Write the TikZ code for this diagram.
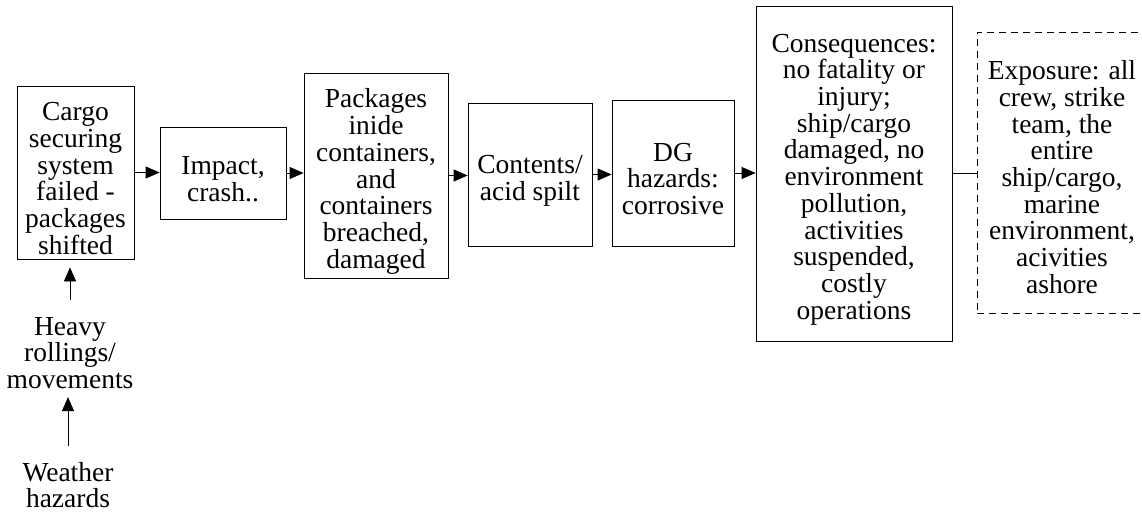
\documentclass[tikz,border=0pt]{standalone}
\usepackage{fontspec}
\setmainfont{Liberation Serif}
\usetikzlibrary{arrows.meta}
\tikzset{
  lbl/.style={inner sep=0pt, align=center, font=\fontsize{27.5}{26.7}\selectfont},
  intext/.style={lbl, yshift=-6pt},
  box/.style={draw, line width=0.8pt, inner sep=0pt},
  dbox/.style={box, dash pattern=on 7pt off 5pt},
  arr/.style={-{Triangle[length=14pt,width=12pt]}, line width=0.8pt},
  conn/.style={line width=0.8pt}
}
\begin{document}
\begin{tikzpicture}[x=1pt,y=-1pt]
\clip (0,0) rectangle (1142,512);
\node[box, minimum width=117pt, minimum height=173pt] (b1) at (75.5,172.5) {};
\node[intext] (t1) at (b1.center) {Cargo\\securing\\system\\failed -\\packages\\shifted};
\node[box, minimum width=126pt, minimum height=92pt] (b2) at (223,173) {};
\node[intext] (t2) at (b2.center) {Impact,\\crash..};
\node[box, minimum width=144pt, minimum height=205pt] (b3) at (376,175.5) {};
\node[intext] (t3) at (b3.center) {Packages\\inide\\containers,\\and\\containers\\breached,\\damaged};
\node[box, minimum width=124pt, minimum height=143pt] (b4) at (530,174.5) {};
\node[intext] (t4) at (b4.center) {Contents/\\acid spilt};
\node[box, minimum width=122pt, minimum height=146pt] (b5) at (673,173) {};
\node[intext] (t5) at (b5.center) {DG\\hazards:\\corrosive};
\node[box, minimum width=196pt, minimum height=335pt] (b6) at (854,173.5) {};
\node[intext] (t6) at (b6.center) {Consequences:\\no fatality or\\injury;\\ship/cargo\\damaged, no\\environment\\pollution,\\activities\\suspended,\\costly\\operations};
\node[dbox, minimum width=210pt, minimum height=281pt] (b7) at (1082,172.5) {};
\node[lbl] (t7) at (1062,177) {Exposure: all\\crew, strike\\team, the\\entire\\ship/cargo,\\marine\\environment,\\acivities\\ashore};
\node[lbl] (heavy) at (70,353) {Heavy\\rollings/\\movements};
\node[lbl] (weather) at (68,485) {Weather\\hazards};

\draw[arr] (b1.east) -- (b1.east -| b2.west);
\draw[arr] (b2.east) -- (b2.east -| b3.west);
\draw[arr] (b3.east) -- (b3.east -| b4.west);
\draw[arr] (b4.east) -- (b4.east -| b5.west);
\draw[arr] (b5.east) -- (b5.east -| b6.west);
\draw[conn] (b6.east) -- (b6.east -| b7.west);
\draw[arr, shorten >=8pt] ([yshift=17pt]heavy.north) -- (heavy.north |- b1.south);
\draw[arr, shorten >=8pt] ([yshift=16pt]weather.north) -- (weather.north |- heavy.south);
\end{tikzpicture}
\end{document}
